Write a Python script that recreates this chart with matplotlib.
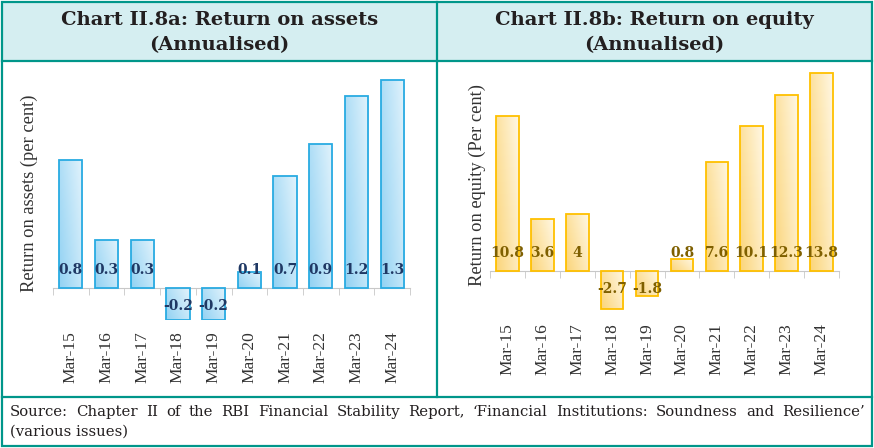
import numpy as np
import matplotlib.pyplot as plt
from matplotlib.colors import LinearSegmentedColormap
from matplotlib.patches import Rectangle
from matplotlib.lines import Line2D

# данные
years = ['Mar-15', 'Mar-16', 'Mar-17', 'Mar-18', 'Mar-19',
         'Mar-20', 'Mar-21', 'Mar-22', 'Mar-23', 'Mar-24']
roa = [0.8, 0.3, 0.3, -0.2, -0.2, 0.1, 0.7, 0.9, 1.2, 1.3]
roe = [10.8, 3.6, 4.0, -2.7, -1.8, 0.8, 7.6, 10.1, 12.3, 13.8]

W, H = 874, 448
teal = '#00968a'

fig = plt.figure(figsize=(W / 100, H / 100), dpi=100)


def fx(px):  # пиксели -> доли фигуры
    return px / W


def fy(py):
    return 1 - py / H


def draw_bars(ax, vals, dark, light, edge, lab_color, pad):
    cmap = LinearSegmentedColormap.from_list('g', [dark, light])
    x = np.arange(len(vals))
    bars = ax.bar(x, vals, width=0.65, facecolor='none', edgecolor=edge,
                  linewidth=1.3, zorder=3)
    gy, gx = np.mgrid[0:1:40j, 0:1:40j]
    grad = 0.65 * gx + 0.35 * (1 - gy)
    for b in bars:
        x0, y0 = b.get_x(), b.get_y()
        x1, y1 = x0 + b.get_width(), y0 + b.get_height()
        im = ax.imshow(grad, extent=[x0, x1, min(y0, y1), max(y0, y1)],
                       cmap=cmap, aspect='auto', origin='upper', zorder=2)
        im.set_clip_path(b)
    for i, v in enumerate(vals):
        off = 13 if v >= 0 else -13
        ax.annotate(f'{v:g}', xy=(i, 0), xytext=(0, off), textcoords='offset points',
                    ha='center', va='center', fontsize=10, fontweight='bold',
                    family='DejaVu Serif', color=lab_color, zorder=5)
    ax.set_xlim(-0.5, len(vals) - 0.5)
    ax.spines[['top', 'right', 'left']].set_visible(False)
    ax.spines['bottom'].set_position(('data', 0))
    ax.spines['bottom'].set_color('#c8c8c8')
    ax.set_yticks([])
    ax.set_xticks(x)
    ax.set_xticklabels(years, rotation=90, family='Liberation Serif',
                       fontsize=12.5, color='#333333')
    ax.set_xticks(np.arange(len(vals) + 1) - 0.5, minor=True)
    ax.tick_params(axis='x', which='major', length=0, pad=pad)
    ax.tick_params(axis='x', which='minor', length=5, color='#c8c8c8')
    ax.patch.set_alpha(0)


# Левый график: ROA
ax1 = fig.add_axes([fx(53), fy(320), fx(357), 256 / H])
draw_bars(ax1, roa, '#92d2f3', '#e2f3fc', '#29abe2', '#1f3864', 31)
ax1.set_ylim(-0.2, 1.4)

# Правый график: ROE
ax2 = fig.add_axes([fx(490), fy(313.6), fx(349), 243.1 / H])
draw_bars(ax2, roe, '#fbd57a', '#fff7e3', '#ffc000', '#7f6000', 38)
ax2.set_ylim(-3, 14)

fig.text(fx(29), fy(193), 'Return on assets (per cent)', rotation=90,
         ha='center', va='center', family='Liberation Serif', fontsize=13.3,
         color='#333333')
fig.text(fx(477), fy(185), 'Return on equity (Per cent)', rotation=90,
         ha='center', va='center', family='Liberation Serif', fontsize=13.3,
         color='#333333')

# шапка и рамка
fig.add_artist(Rectangle((fx(2), fy(61)), fx(870), 59 / H,
                         facecolor='#d5eef1', edgecolor='none', zorder=0))
fig.add_artist(Rectangle((fx(2), fy(446)), fx(870), 444 / H,
                         facecolor='none', edgecolor=teal, linewidth=1.6, zorder=10))
fig.add_artist(Line2D([fx(2), fx(872)], [fy(61), fy(61)], color=teal, lw=1.6, zorder=10))
fig.add_artist(Line2D([fx(2), fx(872)], [fy(397), fy(397)], color=teal, lw=1.6, zorder=10))
fig.add_artist(Line2D([fx(437), fx(437)], [fy(2), fy(397)], color=teal, lw=1.6, zorder=10))

titles = [('Chart II.8a: Return on assets', 219.5), ('Chart II.8b: Return on equity', 654.5)]
for t, cx in titles:
    fig.text(fx(cx), fy(20), t, ha='center', va='center', family='DejaVu Serif',
             fontweight='bold', fontsize=14, color='#231f20')
    fig.text(fx(cx), fy(45), '(Annualised)', ha='center', va='center',
             family='DejaVu Serif', fontweight='bold', fontsize=14, color='#231f20')

# источник, выровненный по ширине
src = ('Source: Chapter II of the RBI Financial Stability Report, '
       '\u2018Financial Institutions: Soundness and Resilience\u2019')
words = src.split(' ')
objs = [fig.text(0, fy(412), w, ha='left', va='center', family='DejaVu Serif',
                 fontsize=10.7, color='#231f20') for w in words]
fig.canvas.draw()
r = fig.canvas.get_renderer()
widths = [o.get_window_extent(r).width for o in objs]
left, right = 10, 865
gap = (right - left - sum(widths)) / (len(words) - 1)
pos = left
for o, w in zip(objs, widths):
    o.set_x(fx(pos))
    pos += w + gap
fig.text(fx(10), fy(432), '(various issues)', ha='left', va='center',
         family='DejaVu Serif', fontsize=10.7, color='#231f20')

fig.savefig('out.png', dpi=100)
